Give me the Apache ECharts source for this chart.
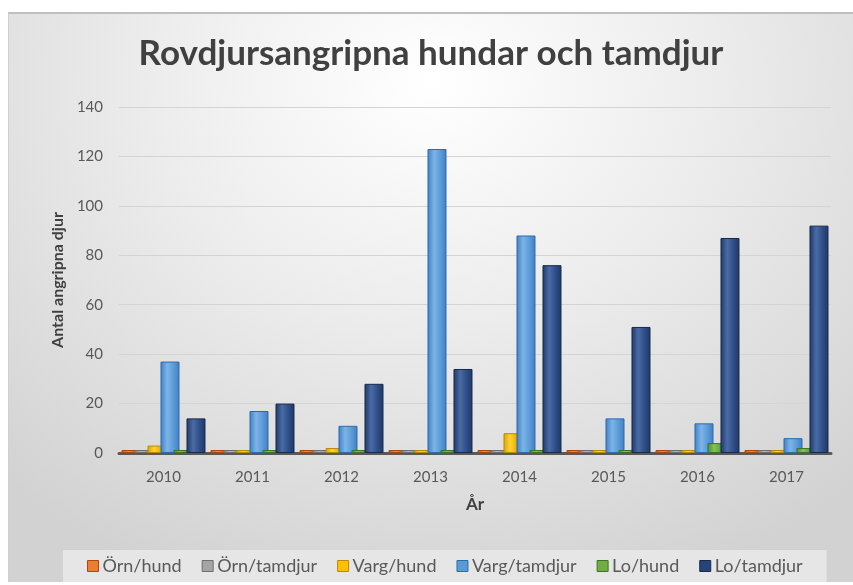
<!DOCTYPE html>
<html>
<head>
<meta charset="utf-8">
<script src="https://cdn.jsdelivr.net/npm/echarts@6/dist/echarts.min.js"></script>
<style>
  html, body { margin: 0; padding: 0; background: #ffffff; }
  #wrap { position: absolute; left: 8px; top: 12px; width: 845px; height: 570px;
    border-top: 2px solid #bfbfbf; border-left: 1px solid #d0d0d0; box-sizing: border-box;
    background: radial-gradient(ellipse 75% 95% at 50% 12%, #ffffff 0%, #ececec 45%, #d2d2d2 100%); }
  #chart { width: 100%; height: 100%; }
</style>
</head>
<body>
<div id="wrap"><div id="chart"></div></div>
<script>
const years = ['2010', '2011', '2012', '2013', '2014', '2015', '2016', '2017'];
const seriesNames = ['Örn/hund', 'Örn/tamdjur', 'Varg/hund', 'Varg/tamdjur', 'Lo/hund', 'Lo/tamdjur'];
const ornHund     = [0, 0, 0, 1, 0, 0, 0, 0];
const ornTamdjur  = [0, 1, 0, 0, 0, 0, 0, 0];
const vargHund    = [3, 1, 2, 1, 8, 1, 1, 1];
const vargTamdjur = [37, 17, 11, 123, 88, 14, 12, 6];
const loHund      = [1, 1, 1, 1, 1, 1, 4, 2];
const loTamdjur   = [14, 20, 28, 34, 76, 51, 87, 92];
const yTicks = [0, 20, 40, 60, 80, 100, 120, 140];

const values = [ornHund, ornTamdjur, vargHund, vargTamdjur, loHund, loTamdjur];
const fills = [
  ['#c55a11', '#f08a4b', '#d56a26'],
  ['#7f7f7f', '#b8b8b8', '#969696'],
  ['#d9a300', '#ffd233', '#e6b000'],
  ['#3f7fc4', '#7db4e8', '#5a9ad6'],
  ['#4e8a2e', '#85c25a', '#609f3c'],
  ['#1f3864', '#4a6ba6', '#2e4d86']
];
const borders = ['#a9480c', '#6e6e6e', '#b88a00', '#2f6aad', '#3f7324', '#172a4c'];
const legendColors = ['#ed7d31', '#a5a5a5', '#ffc000', '#5b9bd5', '#70ad47', '#264478'];

function grad(c) {
  return new echarts.graphic.LinearGradient(0, 0, 1, 0, [
    { offset: 0, color: c[0] },
    { offset: 0.35, color: c[1] },
    { offset: 0.7, color: c[2] },
    { offset: 1, color: c[0] }
  ]);
}

const chart = echarts.init(document.getElementById('chart'));
chart.setOption({
  backgroundColor: 'transparent',
  title: {
    text: 'Rovdjursangripna hundar och tamdjur',
    left: 'center', top: 17,
    textStyle: { fontFamily: 'Lato', fontWeight: 'bold', fontSize: 35, color: '#404040' }
  },
  legend: {
    data: seriesNames.map((n, i) => ({ name: n, itemStyle: { color: legendColors[i], borderColor: borders[i], borderWidth: 1 } })),
    bottom: 0, left: 54,
    icon: 'rect', itemWidth: 11, itemHeight: 11, itemGap: 20,
    backgroundColor: '#e6e6e6',
    padding: [7, 24, 7, 24],
    textStyle: { fontFamily: 'Lato', fontSize: 18, color: '#595959', padding: [0, 0, 0, -1] }
  },
  grid: { left: 110, right: 22, top: 93, bottom: 129 },
  xAxis: {
    type: 'category', data: years,
    name: 'År', nameLocation: 'middle', nameGap: 43,
    nameTextStyle: { fontFamily: 'Lato', fontWeight: 'bold', fontSize: 17, color: '#404040' },
    axisLine: { lineStyle: { color: '#595959', width: 3 } },
    axisTick: { show: false },
    axisLabel: { fontFamily: 'Lato', fontSize: 15, color: '#595959', margin: 17 }
  },
  yAxis: {
    type: 'value', min: 0, max: 140, interval: 20,
    name: 'Antal angripna djur', nameLocation: 'middle', nameGap: 52,
    nameTextStyle: { fontFamily: 'Lato', fontWeight: 'bold', fontSize: 16, color: '#404040' },
    axisLine: { show: false }, axisTick: { show: false },
    axisLabel: { fontFamily: 'Lato', fontSize: 15, color: '#595959', margin: 16,
      formatter: v => (yTicks.indexOf(v) >= 0 ? String(v) : '') },
    splitLine: { lineStyle: { color: '#d4d4d4', width: 1 } }
  },
  series: seriesNames.map((n, i) => ({
    name: n, type: 'bar', data: values[i],
    barWidth: 19, barGap: '-31.6%', barMinHeight: 3,
    itemStyle: { color: grad(fills[i]), borderColor: borders[i], borderWidth: 1 },
    emphasis: { disabled: true },
    animation: false
  }))
});
</script>
</body>
</html>
